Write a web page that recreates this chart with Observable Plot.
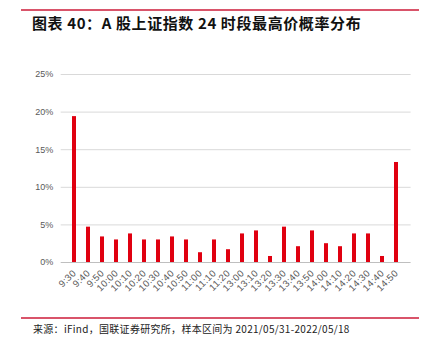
<!DOCTYPE html>
<html>
<head>
<meta charset="utf-8">
<script src="https://cdn.jsdelivr.net/npm/d3@7"></script>
<script src="https://cdn.jsdelivr.net/npm/@observablehq/plot@0.6"></script>
<style>
  html, body { margin: 0; padding: 0; background: #fff; }
  #page { position: relative; width: 428px; height: 340px; overflow: hidden; font-family: "Noto Sans CJK SC", sans-serif; }
  .rule { position: absolute; left: 21px; width: 398px; height: 1.5px; background: #d9546a; }
  #title { position: absolute; left: 32px; top: 13px; font-size: 15px; font-weight: bold; color: #111; white-space: nowrap; line-height: 20px; letter-spacing: 0.6px; }
  #caption { position: absolute; left: 33px; top: 322px; font-size: 10px; color: #222; white-space: nowrap; line-height: 14px; letter-spacing: 0.3px; }
  #chart { position: absolute; left: 0; top: 40px; }
  #chart svg g[aria-label="x-axis tick label"] text { letter-spacing: 0.4px; }
</style>
</head>
<body>
<div id="page">
  <div class="rule" style="top:9px"></div>
  <div id="title">图表 40：A 股上证指数 24 时段最高价概率分布</div>
  <div id="chart"></div>
  <div class="rule" style="top:317px"></div>
  <div id="caption">来源：iFind，国联证券研究所，样本区间为 2021/05/31-2022/05/18</div>
</div>
<script>
const times = ["9:30","9:40","9:50","10:00","10:10","10:20","10:30","10:40","10:50","11:00","11:10","11:20",
               "13:00","13:10","13:20","13:30","13:40","13:50","14:00","14:10","14:20","14:30","14:40","14:50"];
const probs = [19.4,4.7,3.4,3.0,3.8,3.0,3.0,3.4,3.0,1.3,3.0,1.7,
               3.8,4.2,0.8,4.7,2.1,4.2,2.5,2.1,3.8,3.8,0.8,13.3];
const yTicks = [0,5,10,15,20,25];

const data = times.map((t, i) => ({time: t, p: probs[i]}));

const chart = Plot.plot({
  width: 428,
  height: 260,
  marginTop: 34,
  marginBottom: 38,
  marginLeft: 60.7,
  marginRight: 17.4,
  style: {fontFamily: "'Liberation Sans', Arial, sans-serif", fontSize: "9px", color: "#595959", background: "transparent"},
  x: {domain: times, paddingInner: 0.68, paddingOuter: 0.34, label: null, tickSize: 0, tickRotate: -45, tickPadding: 9},
  y: {domain: [0, 25], ticks: yTicks, tickFormat: d => d + "%", label: null, tickSize: 0, tickPadding: 8, grid: false},
  marks: [
    Plot.ruleY(yTicks.filter(d => d > 0), {stroke: "#d9d9d9", strokeWidth: 1}),
    Plot.barY(data, {x: "time", y: "p", fill: "#e00010"}),
    Plot.ruleY([0], {stroke: "#bfbfbf", strokeWidth: 1})
  ]
});
document.getElementById("chart").appendChild(chart);
chart.querySelectorAll('g[aria-label="x-axis tick label"] text').forEach(t => t.setAttribute("font-size", "9.5"));
</script>
</body>
</html>
